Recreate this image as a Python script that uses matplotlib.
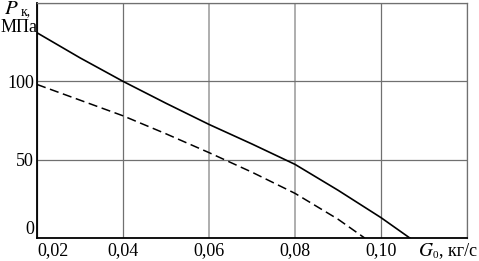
import matplotlib
matplotlib.use('Agg')
import matplotlib.pyplot as plt

plt.rcParams['font.family'] = ['Liberation Serif', 'DejaVu Serif']

# Data
g_solid = [0.02, 0.03, 0.04, 0.05, 0.06, 0.07, 0.08, 0.09, 0.10, 0.1067]
p_solid = [131, 115, 100, 86, 72.5, 60, 47, 30.5, 13, 0]
g_dash = [0.02, 0.03, 0.04, 0.05, 0.06, 0.07, 0.08, 0.09, 0.0962]
p_dash = [98, 88, 78, 66.5, 54.5, 42, 28.5, 12, 0]

x_ticks = [0.02, 0.04, 0.06, 0.08, 0.10, 0.12]
x_labels = ['0,02', '0,04', '0,06', '0,08', '0,10', '']
y_ticks = [0, 50, 100, 150]
y_labels = ['0', '50', '100', '']

fig = plt.figure(figsize=(4.79, 2.61), dpi=100)
ax = fig.add_axes([37 / 479, 23 / 261, 430 / 479, 235 / 261])

ax.plot(g_solid, p_solid, color='black', linewidth=1.2)
ax.plot(g_dash, p_dash, color='black', linewidth=1.1, dashes=(6, 3))

ax.set_xlim(0.02, 0.12)
ax.set_ylim(0, 150)
ax.set_xticks(x_ticks)
ax.set_xticklabels(x_labels)
ax.set_yticks(y_ticks)
ax.set_yticklabels(y_labels)
ax.tick_params(length=0, labelsize=13)
ax.tick_params(axis='x', pad=3)
ax.tick_params(axis='y', pad=2)
ax.get_xticklabels()[0].set_horizontalalignment('left')
ax.get_yticklabels()[0].set_verticalalignment('bottom')

ax.grid(True, color='#707070', linewidth=0.9)
for i, gl in enumerate(ax.xaxis.get_gridlines()):
    if i in (2, 3):
        gl.set_color('#a8a8a8')
        gl.set_linewidth(1.3)
ax.set_axisbelow(True)

for side in ('top', 'right'):
    ax.spines[side].set_color('#707070')
    ax.spines[side].set_linewidth(0.9)
for side in ('left', 'bottom'):
    ax.spines[side].set_color('black')
    ax.spines[side].set_linewidth(1.3)

fig.text(4 / 479, 1 - 0 / 261, r'$P$', fontsize=15, va='top', ha='left',
         math_fontfamily='stix')
fig.text(21 / 479, 1 - 5 / 261, 'к,', fontsize=10, va='top', ha='left')
fig.text(1 / 479, 1 - 19 / 261, 'МПа', fontsize=13, va='top', ha='left')

fig.text(418 / 479, 1 - 251 / 261, r'$G$', fontsize=14, va='center', ha='left',
         math_fontfamily='stix')
fig.text(433 / 479, 1 - 255 / 261, '0', fontsize=8, va='center', ha='left')
fig.text(439 / 479, 1 - 251 / 261, ', кг/с', fontsize=13, va='center', ha='left')

fig.savefig('out.png', dpi=100)
